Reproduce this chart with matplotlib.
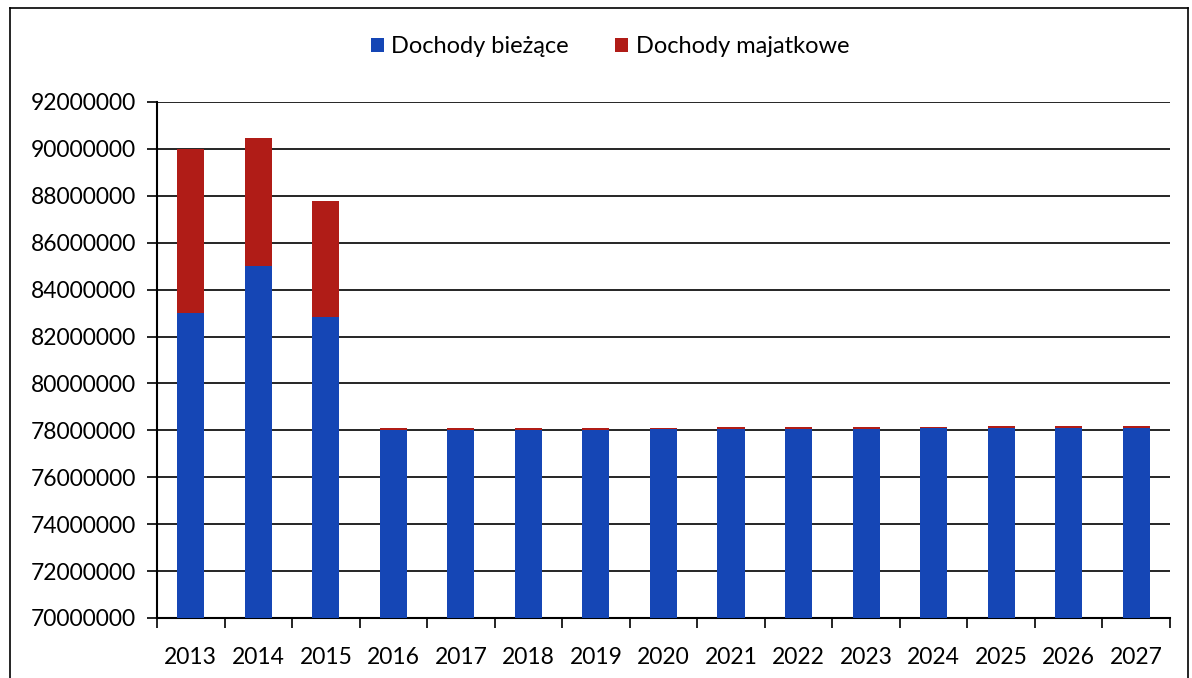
import numpy as np
import matplotlib.pyplot as plt
from matplotlib.lines import Line2D

# dane
lata = ["2013", "2014", "2015", "2016", "2017", "2018", "2019", "2020",
        "2021", "2022", "2023", "2024", "2025", "2026", "2027"]
biezace = [83000000, 85000000, 82850000, 78000000, 78010000, 78020000, 78030000,
           78040000, 78050000, 78060000, 78070000, 78080000, 78090000, 78100000, 78110000]
majatkowe = [7000000, 5470000, 4930000, 80000, 80000, 80000, 80000,
             80000, 80000, 80000, 80000, 80000, 80000, 80000, 80000]

plt.rcParams['font.family'] = ['Lato', 'DejaVu Sans']

fig = plt.figure(figsize=(11.92, 6.78), dpi=100)
ax = fig.add_axes([0.1317, 0.0885, 0.8498, 0.7611])

x = np.arange(len(lata))
ax.bar(x, biezace, width=0.4, color="#1546b5", label="Dochody bieżące", zorder=3)
ax.bar(x, majatkowe, width=0.4, bottom=biezace, color="#b01c17",
       label="Dochody majatkowe", zorder=3)

ax.set_ylim(70000000, 92000000)
ax.set_xlim(-0.5, len(lata) - 0.5)
ax.set_yticks(np.arange(70000000, 92000001, 2000000))
ax.set_yticklabels([str(v) for v in range(70000000, 92000001, 2000000)])
ax.yaxis.grid(True, color="black", linewidth=1.2, zorder=0)
ax.set_xticks(x)
ax.set_xticklabels(lata)
ax.set_xticks(np.arange(-0.5, len(lata), 1), minor=True)
ax.tick_params(axis="x", which="major", length=0, labelsize=16.5, pad=21)
ax.tick_params(axis="x", which="minor", length=7, width=1.2, direction="out")
ax.tick_params(axis="y", length=7, width=1.2, labelsize=16.5, pad=8)
for s in ["top", "right"]:
    ax.spines[s].set_visible(False)
for s in ["left", "bottom"]:
    ax.spines[s].set_linewidth(1.5)

ax.legend(loc="center", bbox_to_anchor=(0.447, 1.107), ncol=2, frameon=False,
          fontsize=17, handlelength=0.55, handleheight=0.55, handletextpad=0.3,
          columnspacing=2.0)

# ramka wokol wykresu
fig.add_artist(Line2D([10 / 1192, 10 / 1192], [0, 1 - 8 / 678], color="black", lw=1.2))
fig.add_artist(Line2D([10 / 1192, 1188 / 1192], [1 - 8 / 678, 1 - 8 / 678], color="black", lw=1.2))
fig.add_artist(Line2D([1188 / 1192, 1188 / 1192], [0, 1 - 8 / 678], color="black", lw=1.2))

fig.savefig("out.png", dpi=100)
